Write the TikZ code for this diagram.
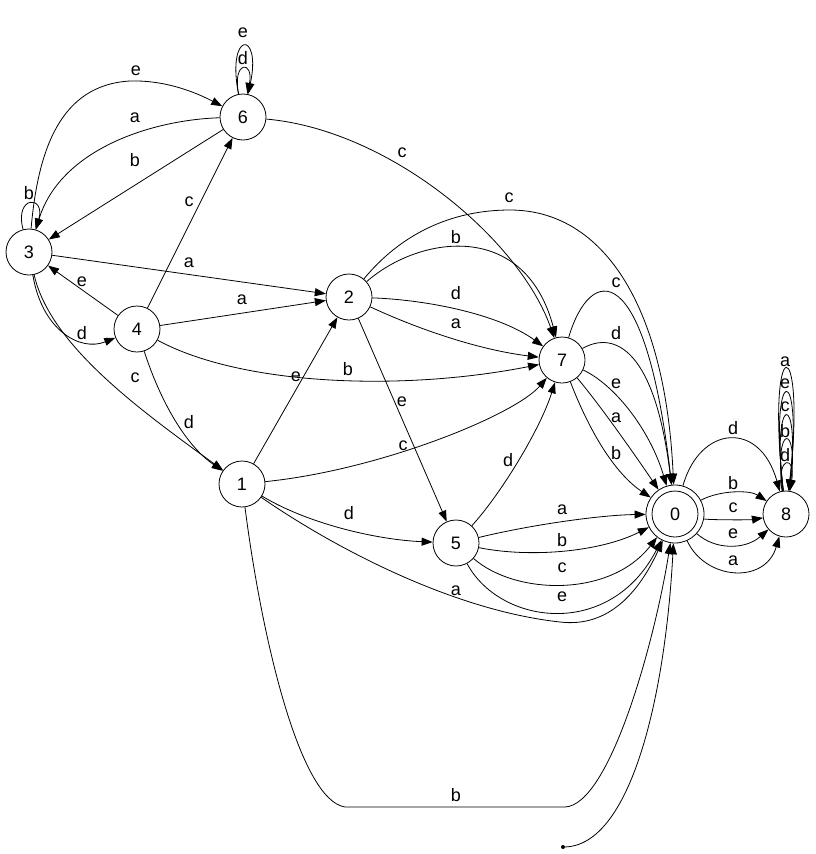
\documentclass[tikz,border=0pt]{standalone}
\usepackage{fontspec}
\setmainfont{Liberation Sans}
\usetikzlibrary{arrows.meta}
\begin{document}
\begin{tikzpicture}[x=1pt,y=-1pt,
  st/.style={circle,draw,line width=0.8pt,minimum size=46pt,inner sep=0pt,font=\fontsize{18}{20}\selectfont},
  lbl/.style={inner sep=0pt,font=\fontsize{18}{20}\selectfont},
  ed/.style={line width=0.8pt,-{Triangle[length=11pt,width=8pt]}}]
\useasboundingbox (0,0) rectangle (816,854);
\node[st] (n6) at (243,117) {6};
\node[st] (n3) at (29,252) {3};
\node[st] (n4) at (137,329) {4};
\node[st] (n2) at (349,297) {2};
\node[st] (n7) at (562,360) {7};
\node[st] (n1) at (242,484) {1};
\node[st] (n5) at (456,543) {5};
\node[st,minimum size=58pt] (n0) at (675,514) {0};
\node[st] (n0i) at (675,514) {};
\node[st] (n8) at (786,514) {8};
\node[circle,fill,inner sep=0pt,minimum size=4pt] (s) at (563,847) {};

\draw[ed] (n3) .. controls (14,195) and (46,195) .. (n3) node[lbl] (t1) at (29,193) {b};
\draw[ed] (n3) .. controls (38,150) and (60,85) .. (130,81) .. controls (165,80) and (195,92) .. (n6) node[lbl] (t2) at (136,71) {e};
\draw[ed] (n6) .. controls (150,120) and (60,150) .. (n3) node[lbl] (t3) at (135,118) {a};
\draw[ed] (n6) -- (n3) node[lbl] (t4) at (135,160) {b};
\draw[ed] (n6) .. controls (232,60) and (254,60) .. (n6) node[lbl] (t5) at (243,58) {d};
\draw[ed] (n6) .. controls (226,30) and (262,30) .. (n6) node[lbl] (t6) at (243,33) {e};
\draw[ed] (n6) .. controls (390,130) and (520,240) .. (n7) node[lbl] (t7) at (402,153) {c};
\draw[ed] (n4) -- (n6) node[lbl] (t8) at (189,202) {c};
\draw[ed] (n3) -- (n2) node[lbl] (t9) at (189,263) {a};
\draw[ed] (n4) -- (n2) node[lbl] (t10) at (242,300) {a};
\draw[ed] (n4) -- (n3) node[lbl] (t11) at (82,282) {e};
\draw[ed] (n3) .. controls (42,330) and (80,352) .. (n4) node[lbl] (t12) at (82,333) {d};
\draw[ed] (n3) .. controls (50,345) and (140,410) .. (n1) node[lbl] (t13) at (135,378) {c};
\draw[ed] (n4) .. controls (160,400) and (185,445) .. (n1) node[lbl] (t14) at (189,422) {d};
\draw[ed] (n4) .. controls (240,385) and (400,392) .. (n7) node[lbl] (t15) at (348,369) {b};
\draw[ed] (n1) -- (n2) node[lbl] (t16) at (296,377) {e};
\draw[ed] (n1) .. controls (380,470) and (515,415) .. (n7) node[lbl] (t17) at (403,446) {c};
\draw[ed] (n1) .. controls (310,525) and (380,540) .. (n5) node[lbl] (t18) at (349,513) {d};
\draw[ed] (n1) .. controls (330,545) and (450,610) .. (560,622) .. controls (610,628) and (640,590) .. (n0) node[lbl] (t19) at (456,591) {a};
\draw[ed] (n1) .. controls (262,640) and (300,800) .. (345,807) -- (565,807) .. controls (610,805) and (655,640) .. (n0) node[lbl] (t20) at (456,795) {b};
\draw[ed] (s) .. controls (630,845) and (665,700) .. (n0);
\draw[ed] (n2) .. controls (400,235) and (450,210) .. (510,210) .. controls (600,210) and (665,300) .. (n0) node[lbl] (t21) at (509,198) {c};
\draw[ed] (n2) .. controls (420,235) and (525,220) .. (n7) node[lbl] (t22) at (456,237) {b};
\draw[ed] (n2) .. controls (430,300) and (500,315) .. (n7) node[lbl] (t23) at (456,293) {d};
\draw[ed] (n2) .. controls (420,330) and (480,350) .. (n7) node[lbl] (t24) at (456,324) {a};
\draw[ed] (n2) -- (n5) node[lbl] (t25) at (402,402) {e};
\draw[ed] (n5) .. controls (500,495) and (540,430) .. (n7) node[lbl] (t26) at (508,460) {d};
\draw[ed] (n7) .. controls (590,265) and (645,255) .. (n0) node[lbl] (t27) at (616,283) {c};
\draw[ed] (n7) .. controls (615,330) and (655,350) .. (n0) node[lbl] (t28) at (616,333) {d};
\draw[ed] (n7) .. controls (615,385) and (650,430) .. (n0) node[lbl] (t29) at (616,384) {e};
\draw[ed] (n7) .. controls (600,405) and (635,455) .. (n0) node[lbl] (t30) at (616,418) {a};
\draw[ed] (n7) .. controls (585,420) and (610,470) .. (n0) node[lbl] (t31) at (616,453) {b};
\draw[ed] (n5) .. controls (530,525) and (600,515) .. (n0) node[lbl] (t32) at (562,510) {a};
\draw[ed] (n5) .. controls (530,558) and (600,552) .. (n0) node[lbl] (t33) at (562,540) {b};
\draw[ed] (n5) .. controls (515,595) and (610,598) .. (n0) node[lbl] (t34) at (562,568) {c};
\draw[ed] (n5) .. controls (500,625) and (610,640) .. (n0) node[lbl] (t35) at (562,597) {e};
\draw[ed] (n0) .. controls (700,425) and (760,420) .. (n8) node[lbl] (t36) at (733,428) {d};
\draw[ed] (n0) .. controls (720,490) and (750,490) .. (n8) node[lbl] (t37) at (733,483) {b};
\draw[ed] (n0) .. controls (710,520) and (750,520) .. (n8) node[lbl] (t38) at (733,508) {c};
\draw[ed] (n0) .. controls (715,550) and (745,550) .. (n8) node[lbl] (t39) at (733,534) {e};
\draw[ed] (n0) .. controls (705,580) and (765,585) .. (n8) node[lbl] (t40) at (733,561) {a};
\draw[ed] (n8) .. controls (765,328) and (807,328) .. (n8) node[lbl] (t41) at (785,362) {a};
\draw[ed] (n8) .. controls (768,360) and (804,360) .. (n8) node[lbl] (t42) at (785,384) {e};
\draw[ed] (n8) .. controls (771,391) and (801,391) .. (n8) node[lbl] (t43) at (785,407) {c};
\draw[ed] (n8) .. controls (773,423) and (799,423) .. (n8) node[lbl] (t44) at (785,431) {b};
\draw[ed] (n8) .. controls (776,455) and (796,455) .. (n8) node[lbl] (t45) at (785,455) {d};
\end{tikzpicture}
\end{document}
